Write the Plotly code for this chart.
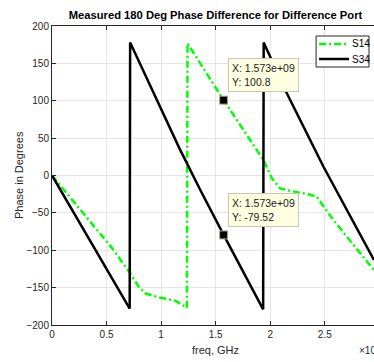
import plotly.graph_objects as go

# Data (frequency in Hz, phase in degrees)
s14_f = [0, 0.40e9, 0.55e9, 0.718e9, 0.794e9, 0.855e9, 0.977e9, 1.13e9, 1.236e9, 1.242e9,
         1.573e9, 1.938e9, 2.015e9, 2.09e9, 2.2e9, 2.35e9, 2.426e9, 2.578e9, 2.95e9]
s14_p = [0, -70, -97, -131, -148.7, -157.6, -163, -167.5, -177, 176.8,
         100.8, 20.7, -3.8, -17.2, -21, -25, -28.3, -59.5, -126.4]

s34_f = [0, 0.712e9, 0.716e9, 1.169e9, 1.359e9, 1.573e9, 1.935e9, 1.94e9, 2.152e9, 2.487e9, 2.95e9]
s34_p = [0, -178, 178, 36, -19.4, -79.52, -179, 178, 110, 12, -113]

tip_x = [1.573e9, 1.573e9]
tip_y = [100.8, -79.52]
tip_text = ["X: 1.573e+09<br>Y: 100.8", "X: 1.573e+09<br>Y: -79.52"]

x_tickvals = [0, 0.5e9, 1.0e9, 1.5e9, 2.0e9, 2.5e9]
x_ticktext = ["0", "0.5", "1", "1.5", "2", "2.5"]
y_tickvals = [-200, -150, -100, -50, 0, 50, 100, 150, 200]

series_names = ["S14", "S34"]
series_colors = ["#00ff00", "black"]
series_dash = ["7px,3px,2px,3px", "solid"]

title_text = "Measured 180 Deg Phase Difference for Difference Port"
xlabel = "freq, GHz"
ylabel = "Phase in Degrees"

FONT = "Liberation Sans, Arial, sans-serif"
AX = "#262626"
GRID = "#e6e6e6"

W, H = 374, 362
ML, MT, MB = 51.5, 26, 37
PW, PH = W - ML, H - MT - MB


def px_x(p):
    return (p - ML) / PW


def px_y(p):
    return (H - MB - p) / PH


fig = go.Figure()
fig.add_trace(go.Scatter(x=s14_f, y=s14_p, mode="lines", name=series_names[0], showlegend=False,
                         line=dict(color=series_colors[0], width=2.5, dash=series_dash[0])))
fig.add_trace(go.Scatter(x=s34_f, y=s34_p, mode="lines", name=series_names[1], showlegend=False,
                         line=dict(color=series_colors[1], width=2.5, dash=series_dash[1])))
fig.add_trace(go.Scatter(x=tip_x, y=tip_y, mode="markers", showlegend=False,
                         marker=dict(symbol="square", size=8, color="black",
                                     line=dict(color="#b5ab8a", width=1))))

for x, y, t in zip(tip_x, tip_y, tip_text):
    fig.add_annotation(x=x, y=y, xref="x", yref="y", text=t, showarrow=False,
                       xanchor="left", yanchor="bottom", xshift=4, yshift=8,
                       align="left", bgcolor="#ffffe1", bordercolor="#c8c8b4",
                       borderwidth=1, borderpad=3,
                       font=dict(family=FONT, size=10.5, color="#1a1a1a"))

# Legend (MATLAB-style box)
fig.add_shape(type="rect", xref="paper", yref="paper",
              x0=px_x(316), x1=px_x(369), y0=px_y(67), y1=px_y(36),
              line=dict(color=AX, width=1), fillcolor="white", layer="above")
for i, (nm, col, ds) in enumerate(zip(series_names, series_colors, series_dash)):
    ypx = 44 + 15 * i
    fig.add_shape(type="line", xref="paper", yref="paper",
                  x0=px_x(319), x1=px_x(349), y0=px_y(ypx), y1=px_y(ypx),
                  line=dict(color=col, width=2.5, dash=ds), layer="above")
    fig.add_annotation(x=px_x(350), y=px_y(ypx), xref="paper", yref="paper", text=nm,
                       showarrow=False, xanchor="left", yanchor="middle",
                       font=dict(family=FONT, size=10, color="black"))

fig.add_annotation(x=px_x(215), y=px_y(350), xref="paper", yref="paper", text=xlabel,
                   showarrow=False, xanchor="center", yanchor="middle",
                   font=dict(family=FONT, size=11, color=AX))
fig.add_annotation(x=px_x(18), y=px_y(175.5), xref="paper", yref="paper", text=ylabel,
                   showarrow=False, xanchor="center", yanchor="middle", textangle=-90,
                   font=dict(family=FONT, size=11, color=AX))
fig.add_annotation(x=1.0, y=px_y(350), xref="paper", yref="paper",
                   text="\u00d710<sup>9</sup>", showarrow=False, xanchor="left", yanchor="middle",
                   xshift=-17, font=dict(family=FONT, size=10, color=AX))

fig.update_layout(
    width=W, height=H,
    margin=dict(l=ML, r=0, t=MT, b=MB, autoexpand=False),
    paper_bgcolor="white", plot_bgcolor="white",
    font=dict(family=FONT, size=10, color=AX),
    title=dict(text="<b>" + title_text + "</b>", x=215.5 / W, xref="container",
               xanchor="center", y=1 - 15 / H, yref="container", yanchor="middle",
               font=dict(family=FONT, size=11.2, color="black")),
    xaxis=dict(range=[0, 2.951e9], tickvals=x_tickvals, ticktext=x_ticktext,
               showgrid=True, gridcolor=GRID, gridwidth=1, zeroline=False,
               showline=True, linecolor=AX, linewidth=1, mirror="ticks",
               ticks="inside", ticklen=4, tickcolor=AX, automargin=False,
               tickfont=dict(family=FONT, size=10, color=AX)),
    yaxis=dict(range=[-200, 200], tickvals=y_tickvals,
               showgrid=True, gridcolor=GRID, gridwidth=1, zeroline=False,
               showline=True, linecolor=AX, linewidth=1, mirror=False,
               ticks="inside", ticklen=4, tickcolor=AX, automargin=False,
               tickfont=dict(family=FONT, size=10, color=AX)),
    showlegend=False,
)

fig.write_html("out.html")
